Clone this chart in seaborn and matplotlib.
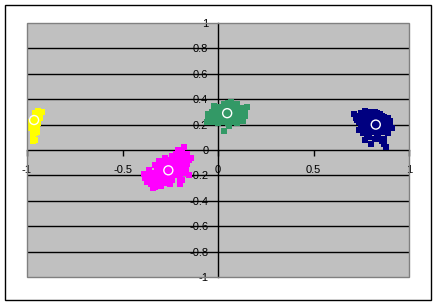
import matplotlib
matplotlib.use("Agg")
import matplotlib.pyplot as plt
import seaborn as sns
import pandas as pd
from matplotlib.patches import Rectangle

# ---- data ----
yellow_x = [-0.94, -0.93, -0.95, -0.94, -0.96, -0.93, -0.95, -0.97, -0.98, -0.96, -0.94,
            -0.97, -0.95, -0.98, -0.96, -0.97, -0.95, -0.97, -0.96, -0.97, -0.92, -0.96,
            -0.95, -0.96, -0.96, -0.96, -0.94, -0.97, -0.95]
yellow_y = [0.31, 0.29, 0.28, 0.26, 0.26, 0.25, 0.23, 0.23, 0.22, 0.21, 0.21,
            0.19, 0.18, 0.17, 0.16, 0.14, 0.14, 0.12, 0.08, 0.07, 0.30, 0.29,
            0.26, 0.24, 0.19, 0.13, 0.24, 0.16, 0.20]

magenta_x = [-0.38, -0.37, -0.36, -0.35, -0.35, -0.34, -0.33, -0.33, -0.32, -0.32, -0.31, -0.31,
             -0.30, -0.30, -0.29, -0.29, -0.28, -0.28, -0.27, -0.27, -0.26, -0.26, -0.25, -0.25,
             -0.24, -0.24, -0.23, -0.23, -0.22, -0.22, -0.21, -0.21, -0.20, -0.20, -0.19, -0.19,
             -0.18, -0.18, -0.17, -0.17, -0.16, -0.16, -0.15, -0.15, -0.14, -0.18, -0.21, -0.39,
             -0.34, -0.30, -0.25, -0.28, -0.33, -0.23, -0.26, -0.29, -0.20, -0.36, -0.31, -0.19,
             -0.35, -0.33, -0.31, -0.29, -0.27, -0.32, -0.30, -0.28, -0.26, -0.24, -0.22, -0.24,
             -0.27, -0.29, -0.26, -0.22, -0.20, -0.18, -0.21, -0.19, -0.23, -0.17, -0.25, -0.31,
             -0.34, -0.37, -0.21, -0.16, -0.20, -0.27]
magenta_y = [-0.22, -0.25, -0.20, -0.27, -0.23, -0.18, -0.29, -0.21, -0.25, -0.15, -0.19, -0.27,
             -0.23, -0.13, -0.17, -0.21, -0.25, -0.10, -0.14, -0.19, -0.22, -0.08, -0.12, -0.17,
             -0.24, -0.05, -0.09, -0.14, -0.20, -0.03, -0.11, -0.16, -0.07, -0.22, -0.13, -0.02,
             -0.09, -0.18, -0.05, -0.15, -0.11, -0.03, -0.08, -0.20, -0.06, 0.02, 0.00, -0.19,
             -0.30, -0.28, -0.27, -0.06, -0.12, -0.18, -0.12, -0.10, -0.27, -0.16, -0.09, -0.24,
             -0.25, -0.25, -0.23, -0.24, -0.23, -0.19, -0.19, -0.18, -0.18, -0.20, -0.17, -0.14,
             -0.16, -0.14, -0.10, -0.12, -0.15, -0.13, -0.07, -0.06, -0.05, -0.10, -0.20, -0.16,
             -0.22, -0.21, -0.19, -0.07, -0.02, -0.26]

green_x = [-0.06, -0.05, -0.04, -0.03, -0.03, -0.02, -0.01, -0.01, 0.00, 0.00, 0.01, 0.01,
           0.02, 0.02, 0.03, 0.03, 0.04, 0.04, 0.05, 0.05, 0.06, 0.06, 0.07, 0.07, 0.07, 0.08,
           0.08, 0.09, 0.09, 0.10, 0.10, 0.11, 0.11, 0.12, 0.12, 0.13, 0.14, 0.15, 0.03, -0.02,
           0.05, 0.13, 0.00, 0.06,
           -0.04, -0.02, -0.02, 0.00, 0.01, 0.02, 0.04, 0.04, 0.06, 0.06, 0.08, 0.08, 0.09,
           0.10, 0.10, 0.12, 0.11, 0.03, 0.01, -0.05, 0.14, 0.09, 0.02]
green_y = [0.22, 0.28, 0.25, 0.30, 0.22, 0.27, 0.32, 0.24, 0.29, 0.21, 0.34, 0.26,
           0.31, 0.23, 0.28, 0.36, 0.25, 0.32, 0.21, 0.29, 0.35, 0.26, 0.38, 0.31, 0.22, 0.28,
           0.34, 0.25, 0.31, 0.36, 0.21, 0.28, 0.33, 0.25, 0.30, 0.27, 0.31, 0.34, 0.15, 0.35,
           0.37, 0.23, 0.33, 0.19,
           0.28, 0.30, 0.24, 0.26, 0.30, 0.27, 0.29, 0.35, 0.31, 0.23, 0.24, 0.31, 0.28,
           0.33, 0.26, 0.33, 0.23, 0.22, 0.22, 0.25, 0.27, 0.36, 0.33]

navy_x = [0.71, 0.72, 0.73, 0.74, 0.75, 0.75, 0.76, 0.76, 0.77, 0.77, 0.78, 0.78, 0.79, 0.79,
          0.80, 0.80, 0.81, 0.81, 0.82, 0.82, 0.83, 0.83, 0.84, 0.84, 0.85, 0.85, 0.86, 0.86,
          0.87, 0.87, 0.88, 0.88, 0.89, 0.89, 0.90, 0.91, 0.87, 0.88, 0.86, 0.77, 0.80, 0.74,
          0.82, 0.79,
          0.73, 0.75, 0.77, 0.77, 0.78, 0.79, 0.80, 0.80, 0.81, 0.81, 0.82, 0.82, 0.83, 0.83,
          0.84, 0.84, 0.85, 0.85, 0.86, 0.86, 0.87, 0.87, 0.88, 0.89, 0.90, 0.84, 0.78, 0.76,
          0.79]
navy_y = [0.28, 0.25, 0.27, 0.22, 0.29, 0.19, 0.25, 0.13, 0.31, 0.21, 0.27, 0.16, 0.23, 0.10,
          0.30, 0.19, 0.26, 0.14, 0.22, 0.09, 0.29, 0.17, 0.25, 0.12, 0.20, 0.28, 0.15, 0.23,
          0.09, 0.26, 0.18, 0.22, 0.13, 0.25, 0.20, 0.17, 0.05, 0.02, 0.07, 0.08, 0.05, 0.16,
          0.30, 0.27,
          0.24, 0.26, 0.24, 0.18, 0.21, 0.29, 0.24, 0.15, 0.20, 0.29, 0.26, 0.17, 0.23, 0.13,
          0.20, 0.28, 0.16, 0.24, 0.19, 0.27, 0.21, 0.14, 0.25, 0.19, 0.23, 0.09, 0.12, 0.20,
          0.18]

center_x = [-0.963, -0.26, 0.048, 0.826]
center_y = [0.236, -0.16, 0.29, 0.20]

x_ticks = [-1, -0.5, 0, 0.5, 1]
x_tick_labels = ["-1", "-0.5", "0", "0.5", "1"]
y_ticks = [-1, -0.8, -0.6, -0.4, -0.2, 0, 0.2, 0.4, 0.6, 0.8, 1]
y_tick_labels = ["-1", "-0.8", "-0.6", "-0.4", "-0.2", "0", "0.2", "0.4", "0.6", "0.8", "1"]

clusters = [("yellow", yellow_x, yellow_y, "#FFFF00"),
            ("magenta", magenta_x, magenta_y, "#FF00FF"),
            ("green", green_x, green_y, "#339966"),
            ("navy", navy_x, navy_y, "#000080")]

sns.set_theme(style="white")
plt.rcParams["font.family"] = ["Liberation Sans", "DejaVu Sans"]

fig = plt.figure(figsize=(4.37, 3.06), dpi=100)
fig.patch.set_facecolor("white")
fig.patches.append(Rectangle((5 / 437, 6 / 306), 426 / 437, 295 / 306,
                             transform=fig.transFigure, fill=False,
                             edgecolor="black", linewidth=1.0))

ax = fig.add_axes([27 / 437, 29 / 306, 382 / 437, 254 / 306])
ax.set_facecolor("#C0C0C0")
ax.set_axisbelow(True)

for gy in y_ticks:
    if gy not in (-1, 0, 1):
        ax.axhline(gy, color="black", linewidth=1.0, zorder=2.6)

for name, xs, ys, col in clusters:
    df = pd.DataFrame({"x": xs, "y": ys})
    sns.scatterplot(data=df, x="x", y="y", ax=ax, color=col, marker="s",
                    s=15, linewidth=0, zorder=3, legend=False)

cdf = pd.DataFrame({"x": center_x, "y": center_y})
sns.scatterplot(data=cdf, x="x", y="y", ax=ax, marker="o", s=42,
                facecolor="none", edgecolor="white", linewidth=1.0, zorder=4,
                legend=False)

ax.set_xlim(-1, 1)
ax.set_ylim(-1, 1)
ax.set_xlabel("")
ax.set_ylabel("")

for side in ("top", "right"):
    ax.spines[side].set_visible(False)
ax.spines["left"].set_position("zero")
ax.spines["bottom"].set_position("zero")
for side in ("left", "bottom"):
    ax.spines[side].set_color("black")
    ax.spines[side].set_linewidth(1.0)
    ax.spines[side].set_zorder(2.7)

# gray plot-area border
ax.add_patch(Rectangle((0, 0), 1, 1, transform=ax.transAxes, fill=False,
                       edgecolor="#808080", linewidth=1.0, zorder=5, clip_on=False))

ax.set_xticks(x_ticks)
ax.set_xticklabels(x_tick_labels)
ax.set_yticks(y_ticks)
ax.set_yticklabels(y_tick_labels)
ax.tick_params(axis="x", direction="out", length=4, width=1, color="black",
               pad=7, labelsize=8, labelcolor="black", bottom=True)
ax.tick_params(axis="y", direction="out", length=0, pad=7, labelsize=8,
               labelcolor="black", left=True)
ax.grid(False)

fig.savefig("out.png", dpi=100)
